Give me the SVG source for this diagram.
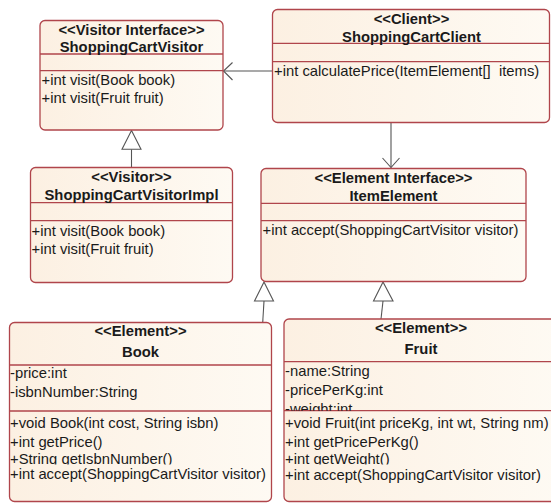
<svg xmlns="http://www.w3.org/2000/svg" width="551" height="503" viewBox="0 0 551 503">
  <defs>
    <linearGradient id="classFill" x1="0" y1="0" x2="1" y2="0">
      <stop offset="0" stop-color="#fcf0e2"/>
      <stop offset="1" stop-color="#fefaf3"/>
    </linearGradient>
    <clipPath id="clipBookOps"><rect x="0" y="411" width="300" height="53.5"/></clipPath>
    <clipPath id="clipFruitAttrs"><rect x="280" y="362" width="280" height="48.7"/></clipPath>
    <clipPath id="clipFruitOps"><rect x="280" y="411" width="280" height="53.5"/></clipPath>
  </defs>
  <style>
    .box { fill: url(#classFill); stroke: #b0454b; stroke-width: 1.3; }
    .div { stroke: #b0454b; stroke-width: 1.3; fill: none; }
    .stereo, .name { font-family: "Liberation Sans", Arial, Helvetica, sans-serif; font-size: 14.8px; font-weight: bold; fill: #1a1a1a; text-anchor: middle; }
    .member { font-family: "Liberation Sans", Arial, Helvetica, sans-serif; font-size: 14.8px; fill: #1a1a1a; }
    .conn { stroke: #555; stroke-width: 1.1; fill: none; }
    .tri { stroke: #555; stroke-width: 1.1; fill: #ffffff; }
  </style>

  <!-- relationships -->
  <g id="connectors">
    <!-- client uses visitor -->
    <line class="conn" x1="273" y1="71" x2="223.5" y2="71"/>
    <polyline class="conn" points="232.5,62.5 223.5,71 232.5,80"/>
    <!-- client uses item element -->
    <line class="conn" x1="391" y1="123" x2="391" y2="167.5"/>
    <polyline class="conn" points="382.5,158 391,167.5 399.5,158"/>
    <!-- impl realizes visitor -->
    <line class="conn" x1="131.5" y1="149.3" x2="131.5" y2="167.5"/>
    <polygon class="tri" points="131.5,130.5 122,149.3 141,149.3"/>
    <!-- book realizes item element -->
    <line class="conn" x1="264" y1="301" x2="262.5" y2="326"/>
    <line class="conn" x1="262.5" y1="326" x2="267" y2="323"/>
    <polygon class="tri" points="264,282 254.5,301 273.5,301"/>
    <!-- fruit realizes item element -->
    <line class="conn" x1="383" y1="301" x2="381" y2="319"/>
    <polygon class="tri" points="383,282 373.5,301 393,301"/>
  </g>

  <g id="ShoppingCartVisitor">
    <rect class="box" x="40" y="20.5" width="183" height="109.5" rx="5"/>
    <line class="div" x1="40" y1="54" x2="223" y2="54"/>
    <line class="div" x1="40" y1="70.7" x2="223" y2="70.7"/>
    <text class="stereo" x="131.5" y="35">&lt;&lt;Visitor Interface&gt;&gt;</text>
    <text class="name" x="131.5" y="51.5">ShoppingCartVisitor</text>
    <text class="member" x="41.5" y="85">+int visit(Book book)</text>
    <text class="member" x="41.5" y="103">+int visit(Fruit fruit)</text>
  </g>

  <g id="ShoppingCartClient">
    <rect class="box" x="272.5" y="9.5" width="277" height="113" rx="5"/>
    <line class="div" x1="272.5" y1="43.3" x2="549.5" y2="43.3"/>
    <line class="div" x1="272.5" y1="61.7" x2="549.5" y2="61.7"/>
    <text class="stereo" x="411.5" y="24">&lt;&lt;Client&gt;&gt;</text>
    <text class="name" x="411.5" y="41.5">ShoppingCartClient</text>
    <text class="member" x="274" y="76" xml:space="preserve">+int calculatePrice(ItemElement[]  items)</text>
  </g>

  <g id="ShoppingCartVisitorImpl">
    <rect class="box" x="30.5" y="167.5" width="202" height="115" rx="5"/>
    <line class="div" x1="30.5" y1="202.7" x2="232.5" y2="202.7"/>
    <line class="div" x1="30.5" y1="220.7" x2="232.5" y2="220.7"/>
    <text class="stereo" x="131.5" y="181.7">&lt;&lt;Visitor&gt;&gt;</text>
    <text class="name" x="131.5" y="200.3">ShoppingCartVisitorImpl</text>
    <text class="member" x="31.5" y="236">+int visit(Book book)</text>
    <text class="member" x="31.5" y="254.3">+int visit(Fruit fruit)</text>
  </g>

  <g id="ItemElement">
    <rect class="box" x="261" y="168.5" width="265" height="113" rx="5"/>
    <line class="div" x1="261" y1="203.3" x2="526" y2="203.3"/>
    <line class="div" x1="261" y1="220.7" x2="526" y2="220.7"/>
    <text class="stereo" x="393.5" y="183.3">&lt;&lt;Element Interface&gt;&gt;</text>
    <text class="name" x="393.5" y="200.5">ItemElement</text>
    <text class="member" x="262.5" y="235">+int accept(ShoppingCartVisitor visitor)</text>
  </g>

  <g id="Book">
    <rect class="box" x="9.5" y="322.5" width="262" height="179" rx="5"/>
    <line class="div" x1="9.5" y1="365" x2="271.5" y2="365"/>
    <line class="div" x1="9.5" y1="411" x2="271.5" y2="411"/>
    <text class="stereo" x="140.5" y="336">&lt;&lt;Element&gt;&gt;</text>
    <text class="name" x="140.5" y="356.5">Book</text>
    <text class="member" x="10" y="378.3">-price:int</text>
    <text class="member" x="10" y="396.7">-isbnNumber:String</text>
    <text class="member" x="10" y="428.3">+void Book(int cost, String isbn)</text>
    <text class="member" x="10" y="446.7">+int getPrice()</text>
    <text class="member" x="10" y="463.8" clip-path="url(#clipBookOps)">+String getIsbnNumber()</text>
    <text class="member" x="10" y="478.5">+int accept(ShoppingCartVisitor visitor)</text>
  </g>

  <g id="Fruit">
    <rect class="box" x="284" y="319" width="274" height="182.5" rx="5"/>
    <line class="div" x1="284" y1="361.7" x2="558" y2="361.7"/>
    <line class="div" x1="284" y1="410.7" x2="558" y2="410.7"/>
    <text class="stereo" x="421" y="333.3">&lt;&lt;Element&gt;&gt;</text>
    <text class="name" x="421" y="354">Fruit</text>
    <text class="member" x="285" y="376">-name:String</text>
    <text class="member" x="285" y="395">-pricePerKg:int</text>
    <text class="member" x="285" y="414" clip-path="url(#clipFruitAttrs)">-weight:int</text>
    <text class="member" x="285" y="428.3">+void Fruit(int priceKg, int wt, String nm)</text>
    <text class="member" x="285" y="446.7">+int getPricePerKg()</text>
    <text class="member" x="285" y="464" clip-path="url(#clipFruitOps)">+int getWeight()</text>
    <text class="member" x="285" y="480">+int accept(ShoppingCartVisitor visitor)</text>
  </g>
</svg>
